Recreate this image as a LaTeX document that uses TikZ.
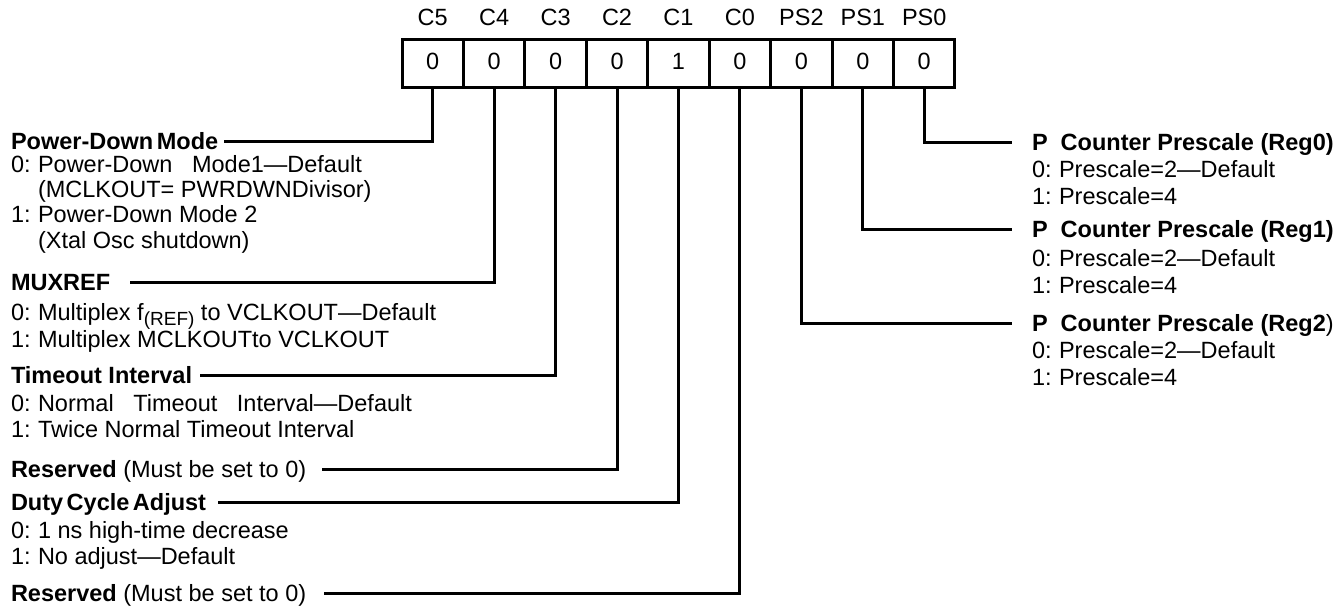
\documentclass[tikz,border=0pt]{standalone}
\usepackage{fontspec}
\setmainfont{Liberation Sans}
\newcommand\pfx[1]{\makebox[1.15em][l]{#1}}
\begin{document}
\begin{tikzpicture}[x=1pt,y=-1pt,
  every node/.style={inner sep=0pt, outer sep=0pt, font=\fontsize{23.5}{27}\selectfont, text height=17pt, text depth=5pt},
  conn/.style={line width=3pt},
  cellbox/.style={draw, line width=3pt, minimum width=61.44pt, minimum height=48pt, anchor=north west},
  lbl/.style={anchor=west},
  hd/.style={anchor=center}]
\useasboundingbox (0,0) rectangle (1343,609);
% register cells
\foreach \n/\v [count=\i from 0] in {C5/0,C4/0,C3/0,C2/0,C1/1,C0/0,PS2/0,PS1/0,PS0/0} {
  \node[cellbox] (b\i) at ({402+61.44*\i},40) {\v};
  \node[hd] (h\i) at ({402+61.44*\i+30.72},20) {\n};
}
% left side
\node[lbl] (pdm) at (11,144) {\textbf{Power-Down\hspace{0.15em}Mode}};
\node[lbl] (pdma) at (11,167) {\pfx{0:}Power-Down\ \ \ Mode1—Default};
\node[lbl] (pdmb) at (11,192) {\pfx{}(MCLKOUT= PWRDWNDivisor)};
\node[lbl] (pdmc) at (11,217) {\pfx{1:}Power-Down Mode 2};
\node[lbl] (pdmd) at (11,243) {\pfx{}(Xtal Osc shutdown)};
\node[lbl] (mux) at (11,285) {\textbf{MUXREF}};
\node[lbl] (muxa) at (11,315) {\pfx{0:}Multiplex f\raisebox{-5pt}{\fontsize{19}{19}\selectfont(REF)} to VCLKOUT—Default};
\node[lbl] (muxb) at (11,342) {\pfx{1:}Multiplex MCLKOUTto VCLKOUT};
\node[lbl] (tmo) at (11,377) {\textbf{Timeout Interval}};
\node[lbl] (tmoa) at (11,405) {\pfx{0:}Normal\ \ \ Timeout\ \ \ Interval—Default};
\node[lbl] (tmob) at (11,431) {\pfx{1:}Twice Normal Timeout Interval};
\node[lbl] (rsv1) at (11,471) {\textbf{Reserved} (Must be set to 0)};
\node[lbl] (dca) at (11,504) {\textbf{Duty\hspace{0.15em}Cycle\hspace{0.15em}Adjust}};
\node[lbl] (dcaa) at (11,532) {\pfx{0:}1 ns high-time decrease};
\node[lbl] (dcab) at (11,558) {\pfx{1:}No adjust—Default};
\node[lbl] (rsv2) at (11,595) {\textbf{Reserved} (Must be set to 0)};
% right side
\node[lbl] (r0) at (1032,145) {\textbf{P\ \ Counter Prescale (Reg0)}};
\node[lbl] (r0a) at (1032,172) {\pfx{0:}Prescale=2—Default};
\node[lbl] (r0b) at (1032,199) {\pfx{1:}Prescale=4};
\node[lbl] (r1) at (1032,232) {\textbf{P\ \ Counter Prescale (Reg1)}};
\node[lbl] (r1a) at (1032,261) {\pfx{0:}Prescale=2—Default};
\node[lbl] (r1b) at (1032,288) {\pfx{1:}Prescale=4};
\node[lbl] (r2) at (1032,326) {\textbf{P\ \ Counter Prescale (Reg2})};
\node[lbl] (r2a) at (1032,353) {\pfx{0:}Prescale=2—Default};
\node[lbl] (r2b) at (1032,379) {\pfx{1:}Prescale=4};
% connectors
\draw[conn] (b0.south) |- ([xshift=6pt,yshift=2pt]pdm.east);
\draw[conn] (b1.south) |- ([xshift=20pt,yshift=2pt]mux.east);
\draw[conn] (b2.south) |- ([xshift=8pt,yshift=2pt]tmo.east);
\draw[conn] (b3.south) |- ([xshift=16pt,yshift=2pt]rsv1.east);
\draw[conn] (b4.south) |- ([xshift=12pt,yshift=2pt]dca.east);
\draw[conn] (b5.south) |- ([xshift=18pt,yshift=2pt]rsv2.east);
\draw[conn] (b8.south) |- ([xshift=-20pt,yshift=2pt]r0.west);
\draw[conn] (b7.south) |- ([xshift=-20pt,yshift=2pt]r1.west);
\draw[conn] (b6.south) |- ([xshift=-20pt,yshift=2pt]r2.west);
\end{tikzpicture}
\end{document}
